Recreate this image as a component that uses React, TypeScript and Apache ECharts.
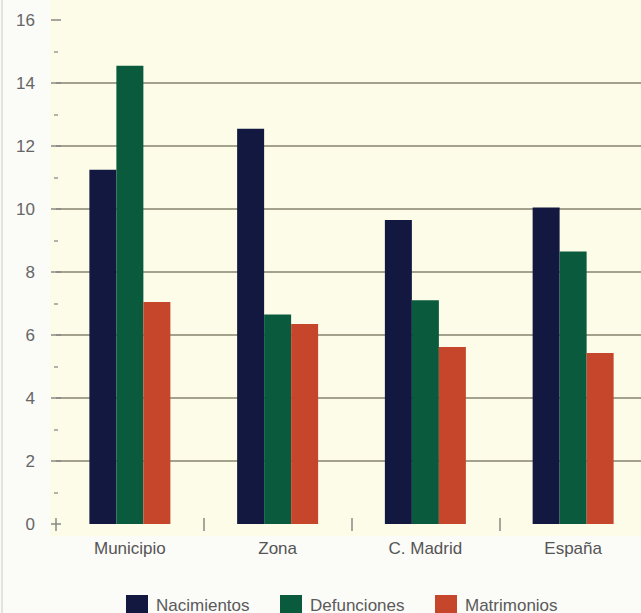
import React, { useEffect, useRef } from "react";
import * as echarts from "echarts";

const categories = ["Municipio", "Zona", "C. Madrid", "España"];
const nacimientos = [11.25, 12.55, 9.65, 10.05];
const defunciones = [14.55, 6.65, 7.1, 8.65];
const matrimonios = [7.05, 6.35, 5.62, 5.43];
const seriesNames = ["Nacimientos", "Defunciones", "Matrimonios"];
const colors = ["#121840", "#0a5a3d", "#c5462b"];

const FONT = "'Liberation Sans', Arial, Helvetica, sans-serif";
const legendLefts = [121, 275, 430];

export default function App() {
  const ref = useRef<HTMLDivElement>(null);
  useEffect(() => {
    if (!ref.current) return;
    const chart = echarts.init(ref.current, undefined, { renderer: "svg" });
    const values = [nacimientos, defunciones, matrimonios];
    chart.setOption({
      animation: false,
      backgroundColor: "#fbfbf8",
      textStyle: { fontFamily: FONT },
      graphic: [
        { type: "rect", z: -10, shape: { x: 50, y: 0, width: 610, height: 536 }, style: { fill: "#fdfce8" }, silent: true },
        { type: "line", z: -5, shape: { x1: 2, y1: 0, x2: 2, y2: 613 }, style: { stroke: "#e2e2de", lineWidth: 2 }, silent: true },
      ],
      grid: { left: 56, right: 3, top: 20, bottom: 89, containLabel: false },
      legend: seriesNames.map((n, i) => ({
        left: legendLefts[i],
        top: 590,
        itemWidth: 22,
        itemHeight: 20,
        itemGap: 20,
        icon: "rect",
        textStyle: { fontSize: 17, color: "#5a5a5a", fontFamily: FONT, padding: [0, 0, 0, 3] },
        data: [n],
      })),
      xAxis: [
        {
          type: "category",
          data: categories,
          axisLine: { show: false },
          axisTick: { show: true, inside: false, length: 7, lineStyle: { color: "#888", width: 1.5 } },
          axisLabel: { fontSize: 17, color: "#555", margin: 16, fontFamily: FONT },
        },
        {
          type: "category",
          data: categories,
          position: "bottom",
          axisLine: { show: false },
          axisTick: { show: true, inside: true, length: 6, lineStyle: { color: "#888", width: 1.5 } },
          axisLabel: { show: false },
        },
      ],
      yAxis: [
        {
          type: "value",
          min: 0,
          max: 16,
          interval: 2,
          axisLine: { show: false },
          axisTick: { show: true, inside: false, length: 5, lineStyle: { color: "#888", width: 1.5 } },
          minorTick: { show: true, splitNumber: 2, length: 2, lineStyle: { color: "#999", width: 1.5 } },
          axisLabel: { fontSize: 17, color: "#666", margin: 21, fontFamily: FONT },
          splitLine: {
            show: true,
            lineStyle: { color: "#86856f", width: 1.5 },
            showMinLine: false,
            showMaxLine: false,
          },
        },
        {
          type: "value",
          min: 0,
          max: 16,
          interval: 2,
          position: "left",
          axisLine: { show: false },
          axisTick: { show: true, inside: true, length: 5, lineStyle: { color: "#888", width: 1.5 } },
          minorTick: { show: true, splitNumber: 2, length: 2, lineStyle: { color: "#999", width: 1.5 } },
          axisLabel: { show: false },
          splitLine: { show: false },
        },
      ],
      series: seriesNames.map((name, i) => ({
        name,
        type: "bar",
        xAxisIndex: 0,
        yAxisIndex: 0,
        data: values[i],
        barWidth: 27,
        barGap: "0%",
        itemStyle: { color: colors[i] },
      })),
    });
    return () => chart.dispose();
  }, []);
  return <div ref={ref} style={{ position: "fixed", left: 0, top: 0, width: 650, height: 613 }} />;
}
